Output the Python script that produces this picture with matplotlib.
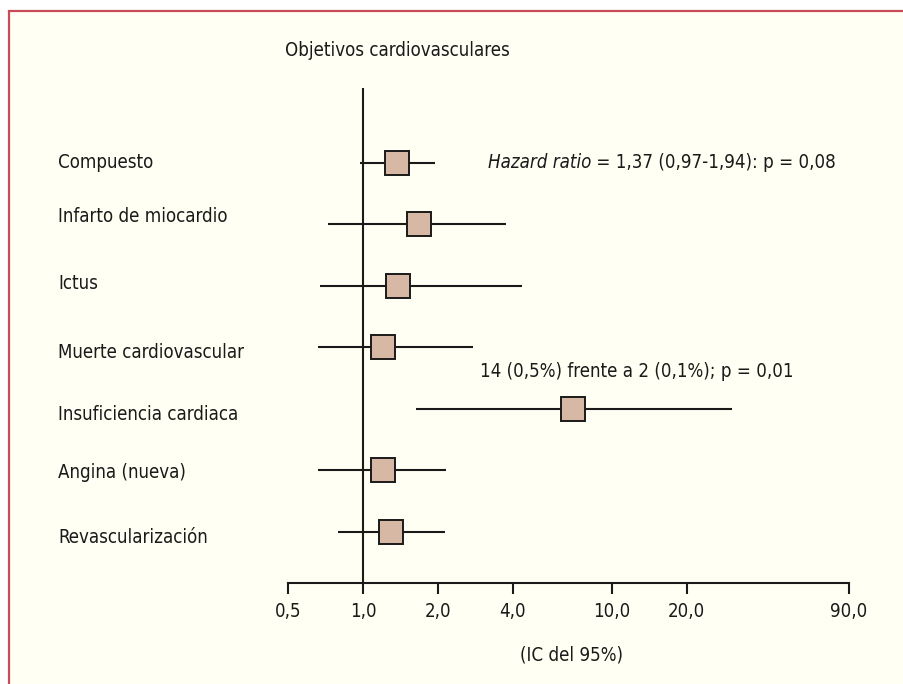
"""Forest plot: objetivos cardiovasculares (hazard ratio, IC del 95%)."""

import matplotlib
matplotlib.use("Agg")
import matplotlib.pyplot as plt
from matplotlib.patches import Rectangle
from matplotlib.text import Annotation
from matplotlib.transforms import blended_transform_factory, offset_copy

plt.rcParams["font.family"] = ["DejaVu Sans"]
plt.rcParams["font.stretch"] = "condensed"

# data
outcomes = [
    "Compuesto",
    "Infarto de miocardio",
    "Ictus",
    "Muerte cardiovascular",
    "Insuficiencia cardiaca",
    "Angina (nueva)",
    "Revascularización",
]
hr = [1.37, 1.67, 1.38, 1.20, 7.0, 1.20, 1.29]
ci_low = [0.97, 0.72, 0.67, 0.66, 1.63, 0.66, 0.79]
ci_high = [1.94, 3.74, 4.37, 2.77, 30.4, 2.16, 2.14]
ticks = [0.5, 1.0, 2.0, 4.0, 10.0, 20.0, 90.0]
tick_labels = ["0,5", "1,0", "2,0", "4,0", "10,0", "20,0", "90,0"]

# small vertical nudges (pixels) of the row labels as set in the original
label_nudge = [0, 8, 2, -5, -6, -2, -6]

BG = "#fffff3"
EDGE = "#c84c58"
INK = "#1a1a1a"
BOX = "#d6b8a4"
FS = 13.4

W, H = 904, 684
fig = plt.figure(figsize=(W / 100, H / 100), dpi=100)
fig.patch.set_facecolor("white")
fig.patches.append(Rectangle((9 / W, -0.1), 1.2, 1 - 11.5 / H + 0.1,
                             transform=fig.transFigure, facecolor=BG,
                             edgecolor=EDGE, linewidth=1.6, zorder=-10))

# axes placed so that 0,5 .. 90,0 spans the drawn axis line
ax = fig.add_axes([288.3 / W, 1 - 582.7 / H, (849 - 288.3) / W, (582.7 - 88) / H])
ax.set_facecolor("none")
ax.set_xscale("log")
ax.set_xlim(0.5, 90)
ax.set_ylim(-0.829, 7.215)

n = len(outcomes)
ys = [n - 1 - i for i in range(n)]

ax.axvline(1.0, color=INK, lw=1.5, zorder=1)
ax.hlines(ys, ci_low, ci_high, color=INK, lw=1.5, zorder=2)
ax.plot(hr, ys, ls="none", marker="s", ms=17.5, mfc=BOX, mec=INK, mew=1.4, zorder=3)

for sp in ["top", "right", "left"]:
    ax.spines[sp].set_visible(False)
ax.spines["bottom"].set_linewidth(1.5)
ax.spines["bottom"].set_color(INK)
ax.set_yticks([])
ax.set_xticks(ticks)
ax.set_xticklabels(tick_labels)
ax.minorticks_off()
ax.tick_params(axis="x", length=7.6, width=1.5, color=INK, pad=6,
               labelsize=FS, labelcolor=INK)

# row labels, x in figure fraction, y in data
lab_tr = blended_transform_factory(fig.transFigure, ax.transData)
for y, name, dy in zip(ys, outcomes, label_nudge):
    tr = offset_copy(lab_tr, fig=fig, x=0, y=dy, units="dots")
    ax.text(58.3 / W, y, name, transform=tr, fontsize=FS,
            ha="left", va="center", color=INK, clip_on=False)

fig.text(397 / W, 1 - 50 / H, "Objetivos cardiovasculares", fontsize=FS,
         ha="center", va="center", color=INK)
fig.text(571.7 / W, 1 - 655 / H, "(IC del 95%)", fontsize=FS,
         ha="center", va="center", color=INK)

t1 = fig.text(488 / W, 1 - 162.7 / H, "Hazard ratio", fontsize=FS, style="italic",
              ha="left", va="center", color=INK)
fig.add_artist(Annotation(" = 1,37 (0,97-1,94): p = 0,08", xy=(1, 0.5), xycoords=t1,
                          ha="left", va="center", fontsize=FS, color=INK))
fig.text(480 / W, 1 - 371.7 / H, "14 (0,5%) frente a 2 (0,1%); p = 0,01",
         fontsize=FS, ha="left", va="center", color=INK)

fig.savefig("out.png", dpi=100, facecolor=fig.get_facecolor())
